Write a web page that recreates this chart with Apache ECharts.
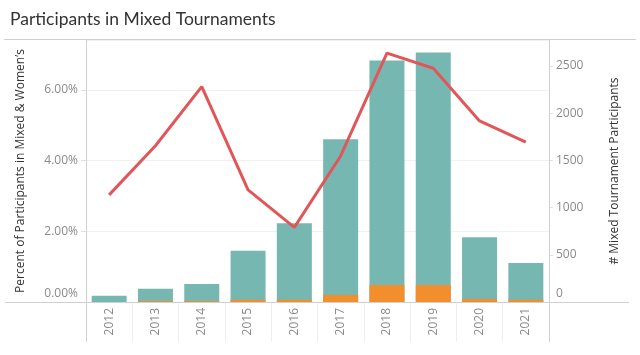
<!DOCTYPE html>
<html>
<head>
<meta charset="utf-8">
<script src="https://cdn.jsdelivr.net/npm/echarts@6/dist/echarts.min.js"></script>
<style>
html,body{margin:0;padding:0;background:#fff;}
#c{width:640px;height:355px;}
</style>
</head>
<body>
<div id="c"></div>
<script>
const years = ['2012','2013','2014','2015','2016','2017','2018','2019','2020','2021'];
const mixedParticipants = [65, 140, 190, 542, 835, 1723, 2558, 2643, 687, 412];
const orangeParticipants = [0, 10, 10, 25, 25, 74, 180, 180, 32, 25];
const percentMixedWomens = [3.03, 4.42, 6.09, 3.17, 2.11, 4.13, 7.04, 6.61, 5.12, 4.52];

const FONT = '"Open Sans", "Noto Sans", sans-serif';
const chart = echarts.init(document.getElementById('c'), null, {renderer: 'canvas'});
const labelColor = '#8a8a8a';
const lineColor = '#d0d0d0';

chart.setOption({
  animation: false,
  backgroundColor: '#fff',
  textStyle: {fontFamily: FONT},
  title: {
    text: 'Participants in Mixed Tournaments',
    left: 5, top: 5,
    textStyle: {fontFamily: 'Lato, "Open Sans", sans-serif', fontSize: 17.5, fontWeight: 'normal', color: '#333'}
  },
  grid: {left: 86, right: 91, top: 40, bottom: 53, containLabel: false},
  xAxis: {
    type: 'category',
    data: years,
    axisLine: {show: false},
    axisTick: {show: true, length: 40, lineStyle: {color: '#eeeeee'}},
    axisLabel: {rotate: 90, color: labelColor, fontSize: 12, margin: 6, fontFamily: FONT}
  },
  yAxis: [
    {
      type: 'value', min: 0, max: 7.41, interval: 2, position: 'left',
      name: 'Percent of Participants in Mixed & Women\u2019s',
      nameLocation: 'middle', nameRotate: 90, nameGap: 59,
      nameTextStyle: {color: '#333', fontSize: 12, fontFamily: FONT},
      axisLine: {show: false},
      axisTick: {show: true, length: 5, lineStyle: {color: '#e0e0e0'}},
      splitLine: {lineStyle: {color: '#f0f0f0'}},
      axisLabel: {
        color: labelColor, fontSize: 12, margin: 8, showMaxLabel: false, fontFamily: FONT,
        formatter: v => v === 0 ? '{z|0.00%}' : v.toFixed(2) + '%',
        rich: {z: {color: labelColor, fontSize: 12, fontFamily: FONT, padding: [0, 0, 16, 0]}}
      }
    },
    {
      type: 'value', min: 0, max: 2775, interval: 500, position: 'right',
      name: '# Mixed Tournament Participants',
      nameLocation: 'middle', nameRotate: 90, nameGap: 60,
      nameTextStyle: {color: '#333', fontSize: 12, fontFamily: FONT},
      axisLine: {show: false},
      axisTick: {show: true, length: 4, lineStyle: {color: '#e0e0e0'}},
      splitLine: {show: false},
      axisLabel: {
        color: labelColor, fontSize: 12, margin: 7, showMaxLabel: false, fontFamily: FONT,
        formatter: v => v === 0 ? '{z|0}' : String(v),
        rich: {z: {color: labelColor, fontSize: 12, fontFamily: FONT, padding: [0, 0, 16, 0]}}
      }
    }
  ],
  graphic: [
    {type: 'line', shape: {x1: 4, y1: 39.5, x2: 636, y2: 39.5}, style: {stroke: lineColor, lineWidth: 1}, z: 100},
    {type: 'line', shape: {x1: 5, y1: 302.5, x2: 629, y2: 302.5}, style: {stroke: lineColor, lineWidth: 1}, z: 100},
    {type: 'line', shape: {x1: 86.5, y1: 40, x2: 86.5, y2: 342}, style: {stroke: lineColor, lineWidth: 1}, z: 100},
    {type: 'line', shape: {x1: 549.5, y1: 40, x2: 549.5, y2: 342}, style: {stroke: lineColor, lineWidth: 1}, z: 100}
  ],
  series: [
    {
      name: 'Mixed', type: 'bar', yAxisIndex: 1, data: mixedParticipants,
      barWidth: 35, itemStyle: {color: '#76b7b2'}, z: 2
    },
    {
      name: 'Orange', type: 'bar', yAxisIndex: 1, data: orangeParticipants,
      barWidth: 35, barGap: '-100%', itemStyle: {color: '#f28e2b'}, z: 3
    },
    {
      name: 'Percent', type: 'line', yAxisIndex: 0, data: percentMixedWomens,
      symbol: 'none', lineStyle: {color: '#e15759', width: 3}, itemStyle: {color: '#e15759'}, z: 5
    }
  ]
});
</script>
</body>
</html>
